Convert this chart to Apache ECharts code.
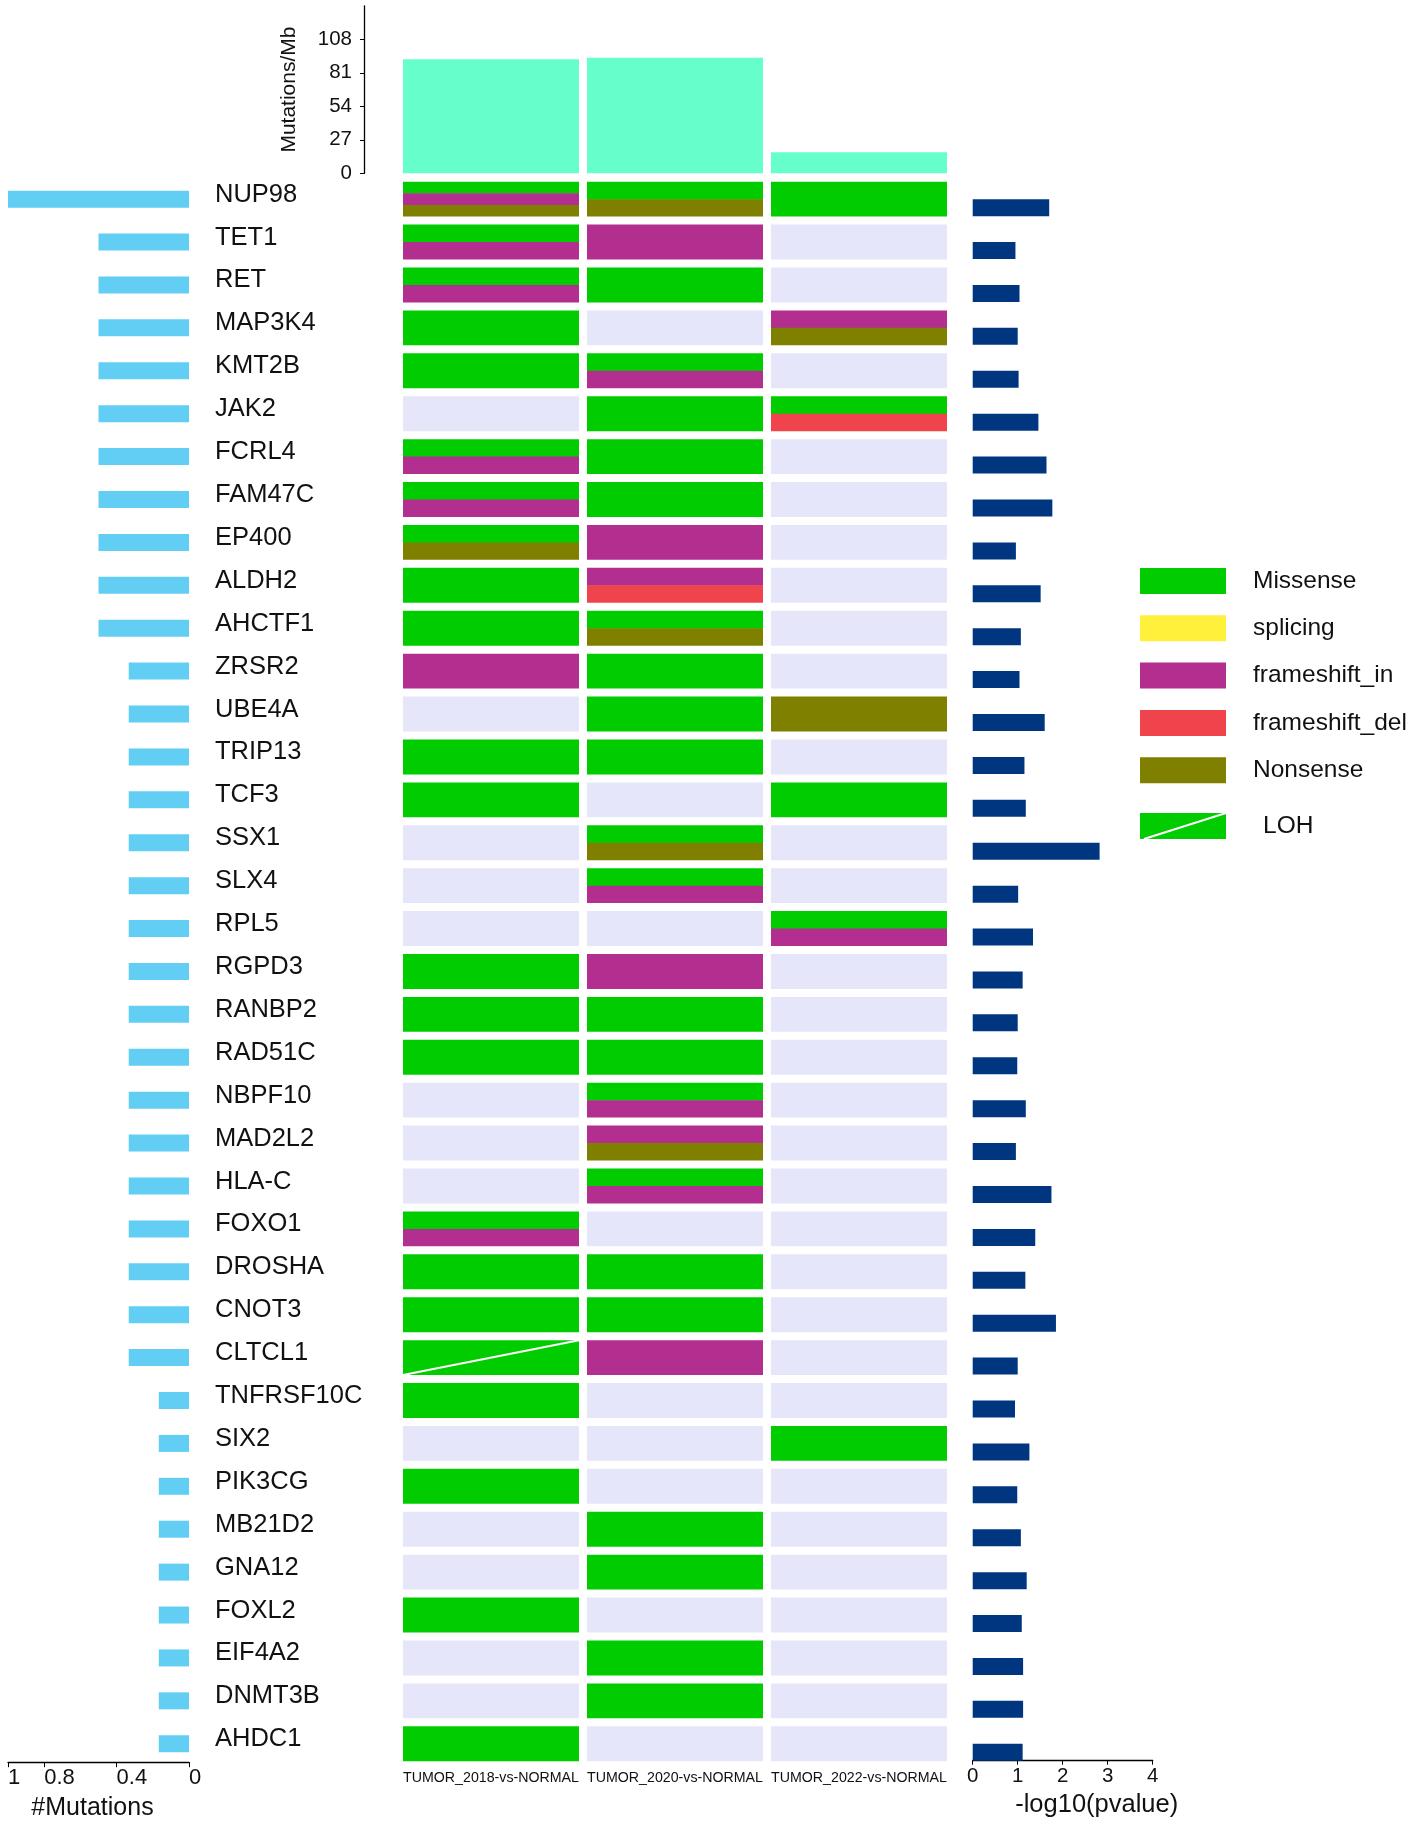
<!DOCTYPE html>
<html lang="en">
  <head>
    <meta charset="UTF-8" />
    <title>Mutation landscape</title>
    <style>
      body {
        margin: 0;
        overflow: hidden;
        background: #fff;
      }
    </style>
    <script src="https://cdn.jsdelivr.net/npm/echarts@6.0.0/dist/echarts.min.js"></script>
  </head>

  <body>
    <div id="chart" style="width: 1418px; height: 1823px"></div>
    <script>
      // ---- data ----
      var samples = ["TUMOR_2018-vs-NORMAL", "TUMOR_2020-vs-NORMAL", "TUMOR_2022-vs-NORMAL"];
      var burden = [92, 93.2, 17]; // Mutations/Mb

      var genes = [
        "NUP98", "TET1", "RET", "MAP3K4", "KMT2B", "JAK2", "FCRL4", "FAM47C", "EP400",
        "ALDH2", "AHCTF1", "ZRSR2", "UBE4A", "TRIP13", "TCF3", "SSX1", "SLX4", "RPL5",
        "RGPD3", "RANBP2", "RAD51C", "NBPF10", "MAD2L2", "HLA-C", "FOXO1", "DROSHA",
        "CNOT3", "CLTCL1", "TNFRSF10C", "SIX2", "PIK3CG", "MB21D2", "GNA12", "FOXL2",
        "EIF4A2", "DNMT3B", "AHDC1"
      ];

      // #Mutations (scaled 0..1)
      var mutFrac = [
        1, 0.5, 0.5, 0.5, 0.5, 0.5, 0.5, 0.5, 0.5, 0.5, 0.5,
        0.333, 0.333, 0.333, 0.333, 0.333, 0.333, 0.333, 0.333, 0.333, 0.333,
        0.333, 0.333, 0.333, 0.333, 0.333, 0.333, 0.333,
        0.167, 0.167, 0.167, 0.167, 0.167, 0.167, 0.167, 0.167, 0.167
      ];

      // -log10(pvalue)
      var negLogP = [
        1.7, 0.95, 1.04, 1.0, 1.02, 1.46, 1.64, 1.77, 0.96, 1.51, 1.07, 1.04, 1.6,
        1.15, 1.18, 2.82, 1.01, 1.34, 1.11, 1.0, 0.99, 1.18, 0.96, 1.75, 1.39, 1.17,
        1.85, 1.0, 0.94, 1.26, 0.99, 1.07, 1.2, 1.09, 1.12, 1.12, 1.11
      ];

      // M=Missense S=splicing I=frameshift_in D=frameshift_del N=Nonsense L=Missense+LOH
      var cells2018 = [
        "MIN", "MI", "MI", "M", "M", "", "MI", "MI", "MN", "M", "M", "I", "", "M", "M",
        "", "", "", "M", "M", "M", "", "", "", "MI", "M", "M", "L", "M", "", "M", "", "",
        "M", "", "", "M"
      ];
      var cells2020 = [
        "MN", "I", "M", "", "MI", "M", "M", "M", "I", "ID", "MN", "M", "M", "M", "",
        "MN", "MI", "", "I", "M", "M", "MI", "IN", "MI", "", "M", "M", "I", "", "", "",
        "M", "M", "", "M", "M", ""
      ];
      var cells2022 = [
        "M", "", "", "IN", "", "MD", "", "", "", "", "", "", "N", "", "M", "", "", "MI",
        "", "", "", "", "", "", "", "", "", "", "", "M", "", "", "", "", "", "", ""
      ];

      var legendNames = ["Missense", "splicing", "frameshift_in", "frameshift_del", "Nonsense"];

      // ---- styles ----
      var FONT = 'Arial, "Liberation Sans", Helvetica, sans-serif';
      var typeColor = {
        M: "#00CC00",
        S: "#FFF03C",
        I: "#B22E8F",
        D: "#EF444B",
        N: "#808000",
        L: "#00CC00"
      };
      var legendColors = ["#00CC00", "#FFF03C", "#B22E8F", "#EF444B", "#808000"];
      var EMPTY = "#E6E6FA";

      var cells = [cells2018, cells2020, cells2022];
      var cellData = [];
      cells.forEach(function (col, ci) {
        col.forEach(function (code, gi) {
          cellData.push([ci, gi]);
        });
      });

      // one heatmap cell: stacked stripes, lavender when empty, white diagonal for LOH
      function renderCell(params, api) {
        var ci = api.value(0);
        var gi = api.value(1);
        var code = cells[ci][gi];
        var c = api.coord([ci, gi]);
        var sz = api.size([1, 1]);
        var w = sz[0] - 8;
        var h = sz[1] - 8;
        var x0 = c[0] - w / 2;
        var y0 = c[1] - h / 2;
        var children = [];
        if (!code) {
          children.push({ type: "rect", shape: { x: x0, y: y0, width: w, height: h }, style: { fill: EMPTY } });
        } else {
          var n = code.length;
          for (var k = 0; k < n; k++) {
            children.push({
              type: "rect",
              shape: { x: x0, y: y0 + (h * k) / n, width: w, height: h / n + (k < n - 1 ? 0.5 : 0) },
              style: { fill: typeColor[code[k]] }
            });
          }
          if (code.indexOf("L") >= 0) {
            children.push({
              type: "line",
              shape: { x1: x0, y1: y0 + h, x2: x0 + w, y2: y0 },
              style: { stroke: "#fff", lineWidth: 2 }
            });
          }
        }
        return { type: "group", children: children };
      }

      // legend on the right
      var legendGraphic = [];
      var lx = 1140, ly = 568;
      legendNames.forEach(function (name, i) {
        legendGraphic.push({
          type: "rect",
          shape: { x: lx, y: ly + i * 47.3, width: 86, height: 26 },
          style: { fill: legendColors[i] }
        });
        legendGraphic.push({
          type: "text",
          x: 1253,
          y: ly + i * 47.3 + 13,
          style: { text: name, font: "24.5px " + FONT, fill: "#111", textVerticalAlign: "middle" }
        });
      });
      legendGraphic.push({
        type: "rect",
        shape: { x: lx, y: 813, width: 86, height: 26 },
        style: { fill: "#00CC00" }
      });
      legendGraphic.push({
        type: "line",
        shape: { x1: lx + 4, y1: 839, x2: lx + 86, y2: 813 },
        style: { stroke: "#fff", lineWidth: 2 }
      });
      legendGraphic.push({
        type: "text",
        x: 1263,
        y: 826,
        style: { text: "LOH", font: "24.5px " + FONT, fill: "#111", textVerticalAlign: "middle" }
      });

      var axisLineBlack = { show: true, lineStyle: { color: "#000", width: 1.3 } };
      var rowTop = 177.7;
      var rowsH = 1587.5;

      var option = {
        animation: false,
        backgroundColor: "#fff",
        textStyle: { fontFamily: FONT, color: "#111" },
        grid: [
          { left: 399, width: 552, top: 5.8, height: 167.5, containLabel: false, outerBoundsMode: "none" },
          { left: 8, width: 181, top: rowTop, height: rowsH, containLabel: false, outerBoundsMode: "none" },
          { left: 399, width: 552, top: rowTop, height: rowsH, containLabel: false, outerBoundsMode: "none" },
          { left: 972.7, width: 180, top: rowTop + 8.5, height: rowsH, containLabel: false, outerBoundsMode: "none" }
        ],
        xAxis: [
          {
            gridIndex: 0,
            type: "category",
            data: samples,
            show: false
          },
          {
            gridIndex: 1,
            type: "value",
            inverse: true,
            min: 0,
            max: 1,
            interval: 0.2,
            position: "bottom",
            offset: -3,
            axisLine: axisLineBlack,
            axisTick: { show: true, length: 5, customValues: [0, 0.4, 0.8, 1], lineStyle: { color: "#000" } },
            axisLabel: {
              customValues: [0, 0.4, 0.8, 1],
              fontSize: 22,
              color: "#111",
              align: "left",
              margin: 5
            },
            splitLine: { show: false },
            name: "#Mutations",
            nameLocation: "middle",
            nameGap: 33,
            nameTextStyle: { fontSize: 25, color: "#111", padding: [0, 12, 0, 0] }
          },
          {
            gridIndex: 2,
            type: "category",
            data: samples,
            position: "bottom",
            axisLine: { show: false },
            axisTick: { show: false },
            axisLabel: { fontSize: 14.2, color: "#111", margin: 6, interval: 0 }
          },
          {
            gridIndex: 3,
            type: "value",
            min: 0,
            max: 4,
            interval: 1,
            position: "bottom",
            offset: -13,
            axisLine: axisLineBlack,
            axisTick: { show: true, length: 4, lineStyle: { color: "#000" } },
            axisLabel: { fontSize: 20.5, color: "#111", margin: 5 },
            splitLine: { show: false },
            name: "-log10(pvalue)",
            nameLocation: "middle",
            nameGap: 29,
            nameTextStyle: { fontSize: 25.5, color: "#111", padding: [0, 0, 0, 68] }
          }
        ],
        yAxis: [
          {
            gridIndex: 0,
            type: "value",
            min: 0,
            max: 135,
            interval: 27,
            position: "left",
            offset: 35,
            axisLine: axisLineBlack,
            axisTick: { show: true, length: 4, customValues: [0, 27, 54, 81, 108], lineStyle: { color: "#000" } },
            axisLabel: { customValues: [0, 27, 54, 81, 108], fontSize: 20.5, color: "#111", margin: 12 },
            splitLine: { show: false },
            name: "Mutations/Mb",
            nameLocation: "middle",
            nameGap: 64,
            nameTextStyle: { fontSize: 21, color: "#111" }
          },
          {
            gridIndex: 1,
            type: "category",
            data: genes,
            inverse: true,
            position: "right",
            axisLine: { show: false },
            axisTick: { show: false },
            axisLabel: {
              fontSize: 25.5,
              color: "#111",
              align: "left",
              verticalAlign: "bottom",
              lineHeight: 9,
              margin: 26,
              interval: 0
            }
          },
          {
            gridIndex: 2,
            type: "category",
            data: genes,
            inverse: true,
            show: false
          },
          {
            gridIndex: 3,
            type: "category",
            data: genes,
            inverse: true,
            show: false
          }
        ],
        series: [
          {
            name: "Mutations/Mb",
            type: "bar",
            xAxisIndex: 0,
            yAxisIndex: 0,
            data: burden,
            barWidth: 176,
            itemStyle: { color: "#66FFCC" }
          },
          {
            name: "#Mutations",
            type: "bar",
            xAxisIndex: 1,
            yAxisIndex: 1,
            data: mutFrac,
            barWidth: 17,
            itemStyle: { color: "#63CEF4" }
          },
          {
            name: "cells",
            type: "custom",
            xAxisIndex: 2,
            yAxisIndex: 2,
            data: cellData,
            renderItem: renderCell
          },
          {
            name: "-log10(pvalue)",
            type: "bar",
            xAxisIndex: 3,
            yAxisIndex: 3,
            data: negLogP,
            barWidth: 17,
            itemStyle: { color: "#003580" }
          }
        ],
        graphic: legendGraphic
      };

      var chartDom = document.getElementById("chart");
      var myChart = echarts.init(chartDom);
      myChart.setOption(option);
    </script>
  </body>
</html>
